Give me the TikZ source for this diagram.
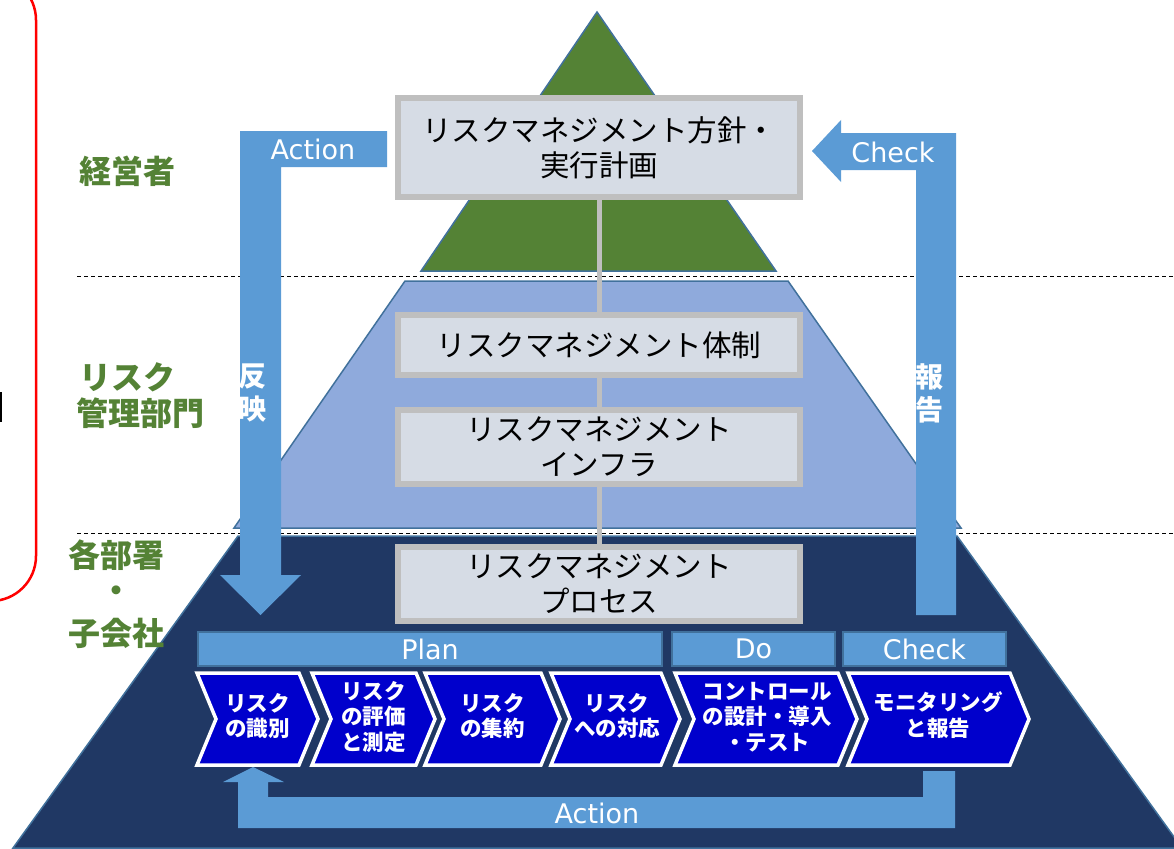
\documentclass[tikz,border=0pt]{standalone}
\usepackage{fontspec}
\newfontfamily\jp{Noto Sans CJK JP}
\newfontfamily\lat{DejaVu Sans}
\definecolor{grn}{HTML}{548235}
\definecolor{ltb}{HTML}{8FAADC}
\definecolor{navy}{HTML}{203864}
\definecolor{edge}{HTML}{41719C}
\definecolor{arr}{HTML}{5B9BD5}
\definecolor{boxf}{HTML}{D6DCE5}
\definecolor{boxb}{HTML}{BFBFBF}
\definecolor{chev}{HTML}{0000CC}
\begin{document}
\begin{tikzpicture}[x=1pt,y=-1pt,
  layer/.style={draw=edge,line width=1.5pt,line join=miter},
  sep/.style={draw=black,line width=1pt,dash pattern=on 4pt off 3pt},
  mbox/.style={draw=boxb,fill=boxf,line width=6pt,minimum width=402pt,inner sep=0pt,align=center,
    font=\jp\fontsize{29.5}{35}\selectfont,text=black},
  conn/.style={draw=boxb,line width=5pt},
  lbl/.style={text=grn,font=\jp\bfseries\fontsize{32}{38}\selectfont,inner sep=0pt},
  blockarrow/.style={fill=arr},
  arrtext/.style={text=white,font=\lat\fontsize{27}{30}\selectfont,inner sep=0pt},
  vtext/.style={text=white,font=\jp\bfseries\fontsize{28}{33}\selectfont,align=center,inner sep=0pt},
  pdc/.style={draw=edge,fill=arr,line width=2pt,minimum height=34pt,inner sep=0pt,
    text=white,font=\lat\fontsize{27}{30}\selectfont},
  chevst/.style={fill=chev,draw=white,line width=3.5pt,line join=miter},
  ctext/.style={text=white,font=\jp\bfseries\fontsize{21.5}{25.5}\selectfont,align=center,inner sep=0pt}
]
\useasboundingbox (0,0) rectangle (1174,848);
\clip (0,0) rectangle (1174,848);

% red frame at left
\draw[red,line width=2.5pt,rounded corners=45pt] (-200,-25) rectangle (36,601);
\draw[black,line width=1.5pt] (0.75,392) -- (0.75,422);

% pyramid layers
\path[layer,fill=navy] (238,536) -- (957,536) -- (1182,848) -- (13,848) -- cycle;
\path[layer,fill=ltb] (405,281) -- (788,281) -- (961,528) -- (234,528) -- cycle;
\path[layer,fill=grn] (597,12) -- (776,271) -- (421,271) -- cycle;

% separators
\draw[sep] (77,276) -- (1174,276);
\draw[sep] (77,533) -- (1174,533);

% left labels
\node[lbl,anchor=west] (l1) at (79,171) {経営者};
\node[lbl,anchor=west] (l2a) at (79,377) {リスク};
\node[lbl,anchor=west] (l2b) at (76,413) {管理部門};
\node[lbl] (l3a) at (116,555) {各部署};
\node[lbl] (l3b) at (116,594) {・};
\node[lbl] (l3c) at (116,633) {子会社};

% management boxes
\node[mbox,minimum height=99pt] (b1) at (599,147.5) {リスクマネジメント方針・\\実行計画};
\node[mbox,minimum height=60pt] (b2) at (599,345) {リスクマネジメント体制};
\node[mbox,minimum height=74pt] (b3) at (599,447) {リスクマネジメント\\インフラ};
\node[mbox,minimum height=74pt] (b4) at (599,584) {リスクマネジメント\\プロセス};
\draw[conn] (b1.south) -- (b2.north);
\draw[conn] (b2.south) -- (b3.north);
\draw[conn] (b3.south) -- (b4.north);

% left Action arrow
\fill[blockarrow] (240,131) -- (387,131) -- (387,167) -- (281,167) -- (281,575) -- (301,575)
  -- (260.5,615) -- (220,575) -- (240,575) -- cycle;
\node[arrtext] (act1) at (313,149) {Action};
\node[vtext] (hanei) at (252,393) {反\\映};

% right Check arrow
\fill[blockarrow] (956,133) -- (956,615) -- (916,615) -- (916,170) -- (841,170) -- (841,182)
  -- (812,151) -- (841,120) -- (841,133) -- cycle;
\node[arrtext] (chk1) at (893,152) {Check};
\node[vtext] (hokoku) at (929,393) {報\\告};

% PDC bar
\node[pdc,minimum width=464pt] (plan) at (430,649) {Plan};
\node[pdc,minimum width=163pt] (do) at (753.5,649) {Do};
\node[pdc,minimum width=163pt] (check) at (924.5,649) {Check};

% chevrons
\foreach \L/\T in {197/318, 312/435, 425/560, 551/680, 675/857, 848/1029}{
  \path[chevst] (\L,673) -- ({\T-19},673) -- (\T,719) -- ({\T-19},765) -- (\L,765) -- ({\L+19},719) -- cycle;
}
\node[ctext] (c1) at (257.5,716) {リスク\\の識別};
\node[ctext] (c2) at (373.5,717) {リスク\\の評価\\と測定};
\node[ctext] (c3) at (492.5,716) {リスク\\の集約};
\node[ctext] (c4) at (617,716) {リスク\\への対応};
\node[ctext] (c5) at (767,717) {コントロール\\の設計・導入\\・テスト};
\node[ctext] (c6) at (938,715) {モニタリング\\と報告};

% bottom Action arrow
\fill[blockarrow] (238,828) -- (955,828) -- (955,771) -- (923,771) -- (923,797) -- (268,797)
  -- (268,782) -- (284,782) -- (253,767) -- (223,782) -- (238,782) -- cycle;
\node[arrtext] (act2) at (597,813) {Action};
\end{tikzpicture}
\end{document}
